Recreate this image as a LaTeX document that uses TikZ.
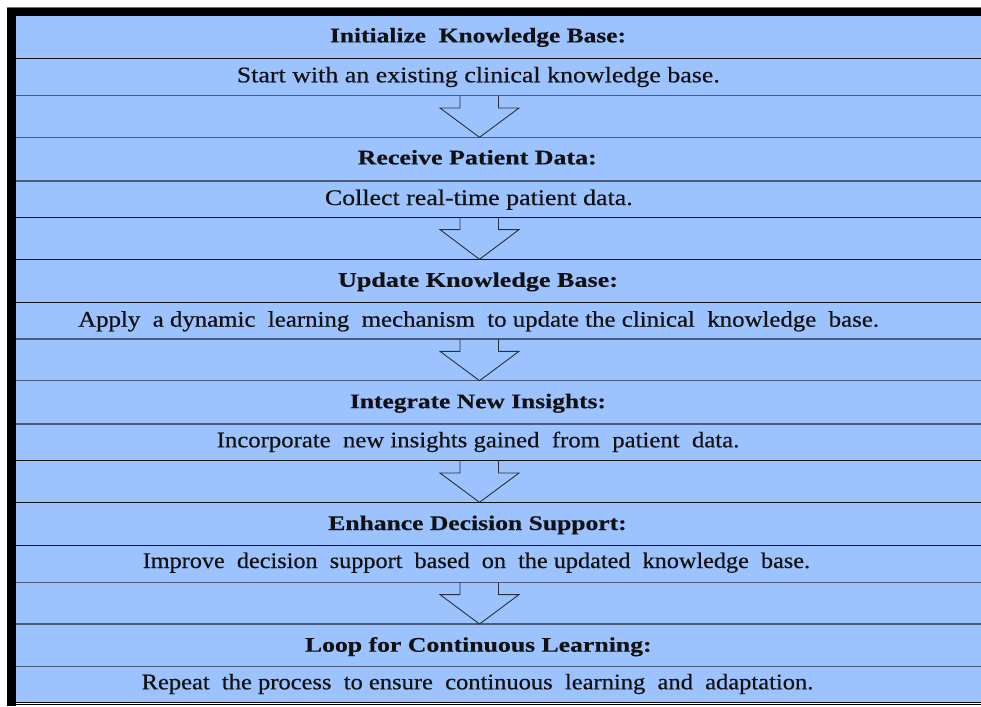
\documentclass[tikz,border=0pt]{standalone}
\usepackage{fontspec}
\setmainfont{Liberation Serif}
\usepackage{graphicx}
\definecolor{rowblue}{HTML}{9DC3FF}
\definecolor{slate}{HTML}{4A5A78}
\definecolor{inkline}{HTML}{111111}
\definecolor{arrowline}{HTML}{2B2F3A}
\tikzset{
  ttl/.style={anchor=base, inner sep=0pt, outer sep=0pt, font=\fontsize{20.8}{22}\selectfont\bfseries\addfontfeature{FakeBold=0.3}, text=inkline},
  dsc/.style={anchor=base, inner sep=0pt, outer sep=0pt, font=\fontsize{22.3}{24}\selectfont\addfontfeature{FakeBold=0.5}, text=inkline},
  rowline/.style={line width=1.3pt},
  blockarr/.style={draw=arrowline, line width=0.9pt, line join=miter}
}
\newcommand{\fitw}[2]{\resizebox{#1pt}{\height}{#2}}
\begin{document}
\begin{tikzpicture}[x=1pt,y=-1pt]
\useasboundingbox (0,0) rectangle (981,706);
\fill[white] (0,0) rectangle (981,706);
% blue body
\fill[rowblue] (15.5,15.5) rectangle (981,702.7);
% thick black frame (top and left)
\fill[black] (7.3,7.3) rectangle (981,15.7);
\fill[black] (7.3,7.3) rectangle (15.5,706);
\draw[black!55, line width=0.7pt] (7,6.9) -- (981,6.9);
% row separators
\foreach \yy/\cc in {58.3/inkline, 95.7/slate, 137.3/slate, 181/slate, 217.3/inkline,
  259.3/inkline, 302.3/inkline, 339/slate, 380.7/slate, 424/slate, 460.7/inkline,
  502.3/inkline, 545.7/inkline, 582.3/slate, 624/slate, 666.7/slate}
  \draw[rowline, \cc] (15.5,\yy) -- (981,\yy);
\draw[black, line width=1pt] (15.5,702.7) -- (981,702.7);
\draw[black, line width=1pt] (15.5,704.8) -- (981,704.8);

% titles
\node[ttl] (t1) at (478,42.4)  {\fitw{296}{Initialize\ \ Knowledge Base:}};
\node[ttl] (t2) at (477.2,164.4) {\fitw{239}{Receive Patient Data:}};
\node[ttl] (t3) at (478,286.8) {\fitw{280}{Update Knowledge Base:}};
\node[ttl] (t4) at (478,408.2) {\fitw{256}{Integrate New Insights:}};
\node[ttl] (t5) at (477.5,530)   {\fitw{298.4}{Enhance Decision Support:}};
\node[ttl] (t6) at (478.3,651.7) {\fitw{346.7}{Loop for Continuous Learning:}};

% descriptions
\node[dsc] (d1) at (478.3,82.3)  {\fitw{483}{Start with an existing clinical knowledge base.}};
\node[dsc] (d2) at (478.8,205) {\fitw{307.7}{Collect real-time patient data.}};
\node[dsc] (d3) at (478.6,326.7) {\fitw{800.7}{Apply\ \ a dynamic\ \ learning\ \ mechanism\ \ to update the clinical\ \ knowledge\ \ base.}};
\node[dsc] (d4) at (478,447.3) {\fitw{522.6}{Incorporate\ \ new insights gained\ \ from\ \ patient\ \ data.}};
\node[dsc] (d5) at (476.4,568) {\fitw{667.3}{Improve\ \ decision\ \ support\ \ based\ \ on\ \ the updated\ \ knowledge\ \ base.}};
\node[dsc] (d6) at (477.5,689.3) {\fitw{671.6}{Repeat\ \ the process\ \ to ensure\ \ continuous\ \ learning\ \ and\ \ adaptation.}};

% block arrows: start at the line under each description, tip on the next title row
\foreach \src/\dst/\ya/\yb in {d1/t2/95.7/137.3, d2/t3/217.3/259.3, d3/t4/339/380.7, d4/t5/460.7/502.3, d5/t6/582.3/624}{
  \coordinate (\src-out) at (479.5,\ya);
  \coordinate (\dst-in) at (479.5,\yb);
  \draw[blockarr] (\src-out) ++(-19.5,0) -- ++(0,12.3) -- ++(-20,0) -- (\dst-in)
     -- ++(39.5,-\yb+\ya+12.3) -- ++(-20.5,0) -- ++(0,-12.3);
}
\end{tikzpicture}
\end{document}
